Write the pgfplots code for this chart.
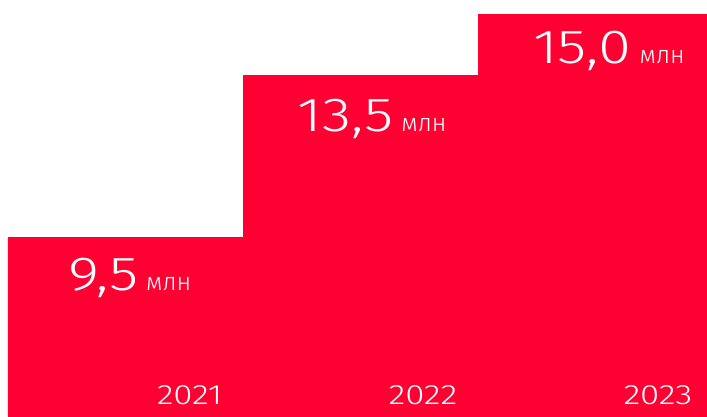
\documentclass[border=0pt]{standalone}
\usepackage{pgfplots}
\pgfplotsset{compat=1.18}
\usepackage{fontspec}
\setmainfont{Fira Sans Light}
\newfontfamily\numfont{Fira Sans Light}[FakeStretch=1.25]
\definecolor{mtsred}{HTML}{FF0032}
\begin{document}
\begin{tikzpicture}
\begin{axis}[
  scale only axis, width=707bp, height=416bp,
  xmin=-0.534, xmax=2.474, ymin=5.1, ymax=15.346,
  axis line style={draw=none},
  ytick=\empty,
  xtick={0,1,2}, xticklabels={2021,2022,2023},
  major tick length=0pt,
  xticklabel style={anchor=base east, inner sep=0pt, xshift=97bp, yshift=12bp,
    text=white, font=\numfont\fontsize{28}{28}\selectfont},
  axis on top,
  ybar, bar width=1, bar shift=0pt,
]
\addplot[fill=mtsred, draw=mtsred, line width=0.6pt] coordinates {(0,9.5) (1,13.5) (2,15.0)};
\node[anchor=base, text=white, inner sep=0pt] at (axis cs:0.019,8.20)
  {\numfont\fontsize{48}{48}\selectfont 9,5\hspace{8bp}\rmfamily\fontsize{25}{25}\selectfont млн};
\node[anchor=base, text=white, inner sep=0pt] at (axis cs:1.049,12.12)
  {\numfont\fontsize{48}{48}\selectfont 13,5\hspace{8bp}\rmfamily\fontsize{25}{25}\selectfont млн};
\node[anchor=base, text=white, inner sep=0pt] at (axis cs:2.057,13.79)
  {\numfont\fontsize{48}{48}\selectfont 15,0\hspace{8bp}\rmfamily\fontsize{25}{25}\selectfont млн};
\end{axis}
\end{tikzpicture}
\end{document}
